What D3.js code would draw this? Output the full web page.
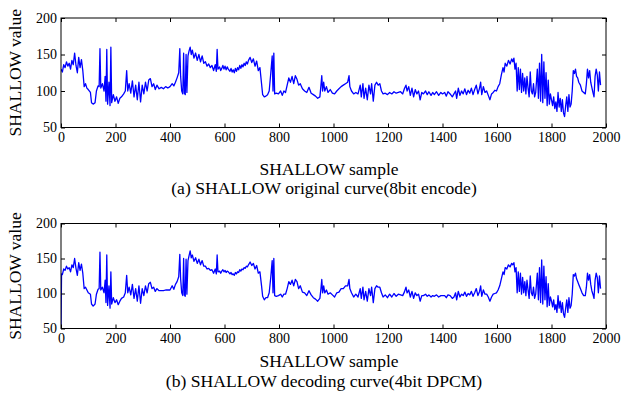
<!DOCTYPE html>
<html>
<head>
<meta charset="utf-8">
<script src="https://cdn.jsdelivr.net/npm/d3@7"></script>
<style>
  body { margin: 0; background: #fff; }
  svg text { font-family: "Liberation Serif", "Times New Roman", Times, "DejaVu Serif", serif; fill: #000; }
</style>
</head>
<body>
<svg id="chart" width="622" height="394"></svg>
<script>
// *** Data (sample index, value) ***

var xTicks = [0, 200, 400, 600, 800, 1000, 1200, 1400, 1600, 1800, 2000];
var yTicks = [50, 100, 150, 200];

var originalCurve = [[0,130],[5,126],[10,136],[15,132],[20,140],[25,134],[30,138],[35,130],[40,142],[45,136],[50,152],[55,135],[60,125],[65,146],[70,132],[75,143],[80,128],[85,106],[90,110],[95,104],[100,102],[108,98],[112,84],[118,82],[125,84],[130,100],[136,107],[140,106],[143,158],[146,104],[152,110],[158,100],[162,120],[165,86],[168,157],[171,82],[176,112],[180,80],[183,160],[186,84],[192,95],[198,86],[204,92],[210,83],[216,90],[222,92],[230,96],[236,100],[241,128],[245,100],[250,110],[256,97],[262,114],[268,92],[274,108],[280,88],[286,112],[292,85],[298,108],[304,96],[310,112],[316,100],[322,115],[328,117],[334,106],[340,110],[346,102],[352,108],[360,103],[368,105],[376,103],[384,106],[392,104],[400,106],[408,110],[414,107],[420,112],[426,118],[432,125],[436,158],[439,120],[443,100],[447,96],[450,152],[453,97],[456,95],[459,150],[462,98],[466,148],[470,155],[474,160],[478,150],[482,156],[488,145],[494,152],[500,142],[506,150],[512,140],[518,148],[524,138],[530,140],[536,134],[542,137],[548,132],[554,135],[560,128],[566,136],[570,127],[573,157],[576,130],[582,133],[586,128],[590,131],[594,135],[598,130],[602,134],[606,129],[610,133],[614,130],[620,127],[624,131],[628,126],[632,129],[636,125],[640,131],[644,127],[648,132],[652,129],[656,135],[660,131],[664,136],[668,133],[672,138],[676,135],[680,140],[684,137],[688,142],[694,146],[700,139],[706,144],[712,134],[718,141],[724,128],[730,132],[736,110],[740,95],[746,92],[752,93],[758,95],[764,100],[770,125],[775,148],[778,100],[781,152],[784,96],[790,97],[798,96],[806,100],[812,94],[818,100],[824,98],[830,108],[836,118],[842,112],[848,120],[854,110],[860,121],[866,116],[872,108],[878,110],[886,103],[894,100],[902,98],[910,105],[918,97],[926,95],[934,93],[942,90],[950,92],[954,108],[957,121],[960,100],[964,112],[968,100],[974,106],[980,98],[988,102],[996,97],[1004,96],[1012,100],[1020,103],[1028,106],[1036,108],[1044,110],[1052,112],[1057,121],[1060,106],[1066,100],[1074,96],[1082,98],[1090,96],[1098,108],[1102,92],[1108,110],[1112,90],[1118,104],[1124,88],[1130,108],[1136,96],[1140,110],[1146,86],[1152,108],[1158,112],[1164,108],[1170,110],[1176,100],[1182,96],[1190,97],[1198,95],[1206,98],[1214,96],[1222,99],[1230,97],[1238,98],[1246,99],[1254,96],[1260,103],[1266,108],[1270,100],[1276,106],[1282,94],[1288,104],[1294,92],[1300,102],[1306,96],[1312,100],[1318,88],[1324,98],[1330,96],[1338,100],[1344,95],[1350,99],[1358,94],[1364,98],[1370,95],[1378,99],[1386,94],[1394,98],[1400,96],[1408,98],[1414,93],[1420,99],[1428,96],[1436,92],[1442,96],[1448,100],[1452,90],[1458,104],[1464,94],[1470,100],[1476,96],[1482,103],[1488,95],[1494,101],[1500,97],[1506,104],[1512,95],[1518,102],[1524,108],[1530,96],[1536,104],[1540,112],[1544,95],[1550,106],[1556,98],[1562,100],[1568,94],[1574,88],[1580,96],[1586,98],[1592,101],[1598,100],[1604,106],[1610,110],[1616,122],[1622,132],[1626,126],[1630,138],[1636,134],[1642,142],[1648,137],[1654,144],[1658,140],[1662,145],[1666,130],[1670,138],[1674,100],[1678,132],[1682,102],[1686,130],[1690,98],[1694,124],[1698,100],[1702,118],[1706,96],[1710,120],[1714,104],[1718,92],[1722,126],[1726,100],[1730,96],[1734,110],[1738,92],[1742,98],[1748,130],[1752,90],[1756,138],[1760,86],[1764,150],[1768,84],[1772,140],[1776,90],[1780,125],[1784,80],[1788,115],[1792,82],[1796,96],[1800,88],[1804,80],[1808,92],[1812,76],[1816,85],[1820,72],[1824,98],[1828,78],[1832,90],[1836,72],[1840,88],[1844,70],[1848,65],[1852,80],[1856,92],[1860,72],[1864,95],[1868,78],[1872,82],[1876,100],[1880,128],[1884,124],[1888,130],[1892,120],[1896,118],[1900,112],[1906,108],[1912,100],[1918,98],[1924,96],[1928,110],[1932,130],[1936,118],[1940,128],[1944,112],[1948,105],[1952,98],[1956,92],[1960,120],[1964,130],[1968,122],[1972,100],[1976,126],[1980,108]];

// decoded curve (4bit DPCM): starts from 50, tall spikes partly clipped by slope overload
var decodedCurve = [[0,50],[2,128],[5,127],[10,135],[15,133],[20,139],[25,135],[30,137],[35,131],[40,141],[45,137],[50,150],[55,136],[60,126],[65,144],[70,133],[75,142],[80,129],[85,107],[90,109],[95,105],[100,101],[108,99],[112,85],[118,82],[125,85],[130,99],[136,106],[140,107],[143,159],[146,105],[152,109],[158,101],[162,119],[165,87],[168,155],[171,83],[176,111],[180,79],[183,131],[186,85],[192,94],[198,87],[204,91],[210,84],[216,89],[222,93],[230,95],[236,101],[241,126],[245,101],[250,109],[256,98],[262,113],[268,93],[274,107],[280,89],[286,111],[292,86],[298,107],[304,97],[310,111],[316,101],[322,114],[328,116],[334,107],[340,109],[346,103],[352,107],[360,104],[368,104],[376,104],[384,105],[392,105],[400,105],[408,111],[414,106],[420,113],[426,117],[432,124],[436,156],[439,121],[443,101],[447,97],[450,150],[453,98],[456,96],[459,149],[462,99],[466,147],[470,154],[474,161],[478,151],[482,155],[488,146],[494,151],[500,143],[506,149],[512,141],[518,147],[524,139],[530,139],[536,135],[542,136],[548,133],[554,134],[560,129],[566,135],[570,128],[573,155],[576,131],[582,132],[586,129],[590,132],[594,134],[598,131],[602,133],[606,130],[610,132],[614,131],[620,128],[624,130],[628,127],[632,128],[636,126],[640,130],[644,128],[648,131],[652,130],[656,134],[660,132],[664,135],[668,134],[672,137],[676,136],[680,139],[684,138],[688,141],[694,145],[700,140],[706,143],[712,135],[718,140],[724,129],[730,131],[736,111],[740,96],[746,91],[752,94],[758,94],[764,101],[770,124],[775,147],[778,101],[781,150],[784,97],[790,96],[798,97],[806,99],[812,95],[818,99],[824,99],[830,107],[836,117],[842,113],[848,119],[854,111],[860,120],[866,117],[872,107],[878,111],[886,102],[894,101],[902,97],[910,104],[918,98],[926,94],[934,92],[942,89],[950,93],[954,107],[957,120],[960,101],[964,111],[968,101],[974,105],[980,99],[988,101],[996,98],[1004,95],[1012,101],[1020,102],[1028,107],[1036,107],[1044,111],[1052,111],[1057,120],[1060,107],[1066,101],[1074,95],[1082,99],[1090,95],[1098,107],[1102,93],[1108,109],[1112,91],[1118,103],[1124,89],[1130,107],[1136,97],[1140,109],[1146,87],[1152,107],[1158,111],[1164,109],[1170,109],[1176,101],[1182,95],[1190,98],[1198,94],[1206,99],[1214,95],[1222,100],[1230,96],[1238,99],[1246,98],[1254,97],[1260,102],[1266,109],[1270,101],[1276,105],[1282,95],[1288,103],[1294,93],[1300,101],[1306,97],[1312,99],[1318,89],[1324,97],[1330,97],[1338,99],[1344,96],[1350,98],[1358,95],[1364,97],[1370,96],[1378,98],[1386,95],[1394,97],[1400,97],[1408,97],[1414,94],[1420,98],[1428,97],[1436,93],[1442,95],[1448,101],[1452,91],[1458,103],[1464,95],[1470,99],[1476,97],[1482,102],[1488,96],[1494,100],[1500,98],[1506,103],[1512,96],[1518,101],[1524,107],[1530,97],[1536,103],[1540,111],[1544,96],[1550,105],[1556,99],[1562,99],[1568,95],[1574,89],[1580,95],[1586,99],[1592,100],[1598,101],[1604,105],[1610,111],[1616,121],[1622,131],[1626,127],[1630,137],[1636,135],[1642,141],[1648,138],[1654,143],[1658,141],[1662,144],[1666,131],[1670,137],[1674,101],[1678,131],[1682,103],[1686,129],[1690,99],[1694,123],[1698,101],[1702,117],[1706,97],[1710,119],[1714,105],[1718,93],[1722,125],[1726,101],[1730,97],[1734,109],[1738,93],[1742,99],[1748,129],[1752,91],[1756,137],[1760,87],[1764,148],[1768,85],[1772,139],[1776,91],[1780,124],[1784,81],[1788,114],[1792,83],[1796,95],[1800,89],[1804,81],[1808,91],[1812,77],[1816,84],[1820,73],[1824,97],[1828,79],[1832,89],[1836,73],[1840,87],[1844,71],[1848,66],[1852,79],[1856,91],[1860,73],[1864,94],[1868,79],[1872,83],[1876,99],[1880,127],[1884,125],[1888,129],[1892,121],[1896,117],[1900,113],[1906,107],[1912,101],[1918,97],[1924,97],[1928,109],[1932,129],[1936,119],[1940,127],[1944,113],[1948,104],[1952,99],[1956,93],[1960,119],[1964,129],[1968,123],[1972,101],[1976,125],[1980,107]];

var panels = [
  {data: originalCurve, top: 18, bottom: 127.5, xLabelY: 175, captionY: 193.5,
   caption: "(a) SHALLOW original curve(8bit encode)"},
  {data: decodedCurve, top: 223.5, bottom: 328.5, xLabelY: 366.5, captionY: 387,
   caption: "(b) SHALLOW decoding curve(4bit DPCM)"}
];

// *** Drawing ***

var svg = d3.select("#chart");
var left = 61, right = 606;
var serif = "'Liberation Serif', 'Times New Roman', Times, 'DejaVu Serif', serif";

panels.forEach(function (p, i) {
  var x = d3.scaleLinear().domain([0, 2000]).range([left, right]);
  var y = d3.scaleLinear().domain([50, 200]).range([p.bottom, p.top]);

  var clipId = "clip" + i;
  svg.append("clipPath").attr("id", clipId)
    .append("rect")
    .attr("x", left).attr("y", p.top)
    .attr("width", right - left).attr("height", p.bottom - p.top);

  var line = d3.line()
    .x(d => x(d[0]))
    .y(d => y(d[1]));

  svg.append("path")
    .attr("clip-path", "url(#" + clipId + ")")
    .attr("d", line(p.data))
    .attr("fill", "none")
    .attr("stroke", "#0000ff")
    .attr("stroke-width", 1.3)
    .attr("stroke-linejoin", "round");

  // inward ticks on all four sides
  var xAxisB = svg.append("g").attr("transform", "translate(0," + p.bottom + ")")
    .call(d3.axisBottom(x).tickValues(xTicks).tickSize(-4).tickPadding(5).tickFormat(d3.format("d")));
  var xAxisT = svg.append("g").attr("transform", "translate(0," + p.top + ")")
    .call(d3.axisTop(x).tickValues(xTicks).tickSize(-4).tickFormat(""));
  var yAxisL = svg.append("g").attr("transform", "translate(" + left + ",0)")
    .call(d3.axisLeft(y).tickValues(yTicks).tickSize(-4).tickPadding(4));
  var yAxisR = svg.append("g").attr("transform", "translate(" + right + ",0)")
    .call(d3.axisRight(y).tickValues(yTicks).tickSize(-4).tickFormat(""));

  [xAxisB, xAxisT, yAxisL, yAxisR].forEach(function (g) {
    g.attr("font-family", serif).attr("font-size", 14);
    g.select(".domain").remove();
    g.selectAll("line").attr("stroke", "#000");
    g.selectAll("text").attr("fill", "#000");
  });

  // frame
  svg.append("rect")
    .attr("x", left).attr("y", p.top)
    .attr("width", right - left).attr("height", p.bottom - p.top)
    .attr("fill", "none").attr("stroke", "#000").attr("stroke-width", 1);

  svg.append("text")
    .attr("x", 329).attr("y", p.xLabelY)
    .attr("text-anchor", "middle")
    .attr("font-family", serif)
    .attr("font-size", 17.5)
    .text("SHALLOW sample");

  svg.append("text")
    .attr("x", 324).attr("y", p.captionY)
    .attr("text-anchor", "middle")
    .attr("font-family", serif)
    .attr("font-size", 17.6)
    .text(p.caption);

  svg.append("text")
    .attr("transform", "translate(21," + ((p.top + p.bottom) / 2) + ") rotate(-90)")
    .attr("text-anchor", "middle")
    .attr("font-family", serif)
    .attr("font-size", 17.5)
    .text("SHALLOW value");
});
</script>
</body>
</html>
